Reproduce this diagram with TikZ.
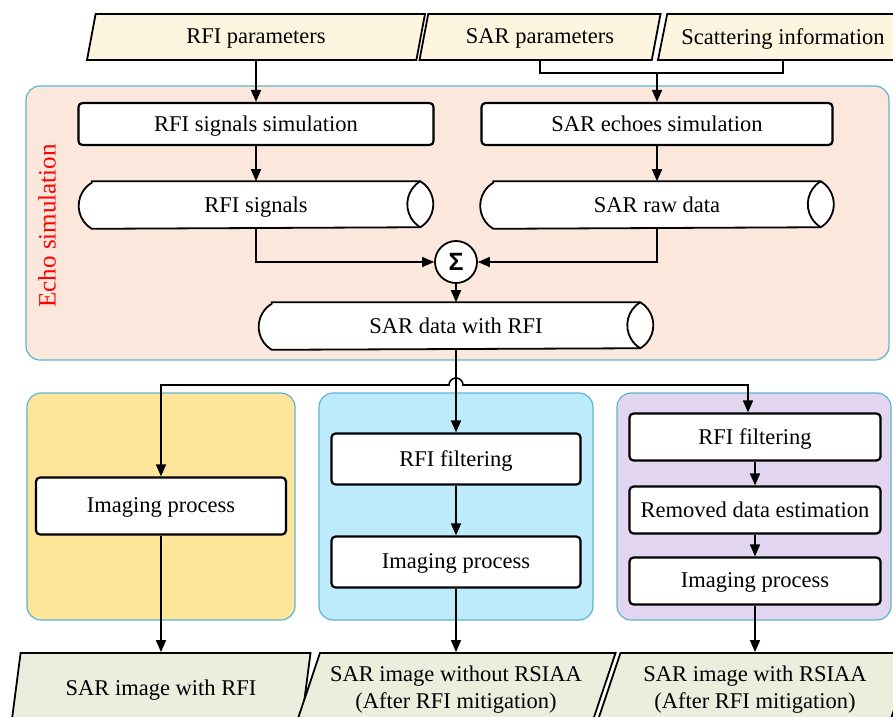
\documentclass[tikz,border=0pt]{standalone}
\usepackage{fontspec}
\setmainfont{Liberation Serif}
\newfontfamily\sigmafont{Liberation Sans}
\usetikzlibrary{arrows.meta, positioning, shapes.geometric, backgrounds}

\definecolor{infill}{RGB}{253,245,223}
\definecolor{outfill}{RGB}{233,238,221}
\definecolor{echofill}{RGB}{251,231,219}
\definecolor{framecol}{RGB}{92,182,206}
\definecolor{panelA}{RGB}{254,229,154}
\definecolor{panelB}{RGB}{190,235,251}
\definecolor{panelC}{RGB}{225,213,240}

\tikzset{
  io/.style={draw, line width=1.8pt, trapezium, trapezium left angle=62, trapezium right angle=118,
    trapezium stretches body, inner sep=0pt, minimum height=46pt, align=center, text depth=1.5pt},
  procbox/.style={draw, line width=2.2pt, fill=white, rounded corners=4pt, minimum height=42pt, text depth=1.5pt},
  databox/.style={inner sep=0pt, minimum height=46pt, text depth=1.5pt},
  dataline/.style={draw, fill=white, line width=1.8pt},
  panel/.style={draw=framecol, line width=1.2pt, rounded corners=14pt},
}

% outline of a stored-data node: bulged left end, lens at the right end
\newcommand{\datashape}[1]{%
  \draw[dataline] (#1.north west) -- (#1.north east)
    arc[start angle=59, end angle=-59, radius=26.85pt] -- (#1.south west)
    arc[start angle=239, end angle=121, radius=26.85pt] -- cycle;
  \draw[line width=1.8pt] (#1.north east) arc[start angle=121, end angle=239, radius=26.85pt];
}

\begin{document}
\begin{tikzpicture}[x=1pt, y=-1pt, >={Triangle[length=12pt, width=10pt]}, line width=1.6pt,
    font=\fontsize{22.5}{27}\selectfont]
    \clip (0,0) rectangle (893,716);

    % containers
    \begin{scope}[on background layer]
      \draw[panel, fill=echofill] (26,86) rectangle (889,360);
      \draw[panel, fill=panelA] (27,393) rectangle (295,620);
      \draw[panel, fill=panelB] (319,393) rectangle (593,620);
      \draw[panel, fill=panelC] (617,393) rectangle (891,620);
    \end{scope}
    \node (echo) [rotate=90, text=red, font=\fontsize{25}{30}\selectfont] at (47,226) {Echo simulation};

    % inputs
    \node (rfipar) [io, fill=infill, minimum width=338pt] at (256,37) {RFI parameters};
    \node (sarpar) [io, fill=infill, minimum width=241pt] at (540,37) {SAR parameters};
    \node (scat) [io, fill=infill, minimum width=250pt] at (783,37) {Scattering information};

    % echo simulation
    \node (rfisim) [procbox, minimum width=355pt] at (256,124) {RFI signals simulation};
    \node (sarsim) [procbox, minimum width=351pt] at (657,124) {SAR echoes simulation};
    \node (rfisig) [databox, minimum width=327pt] at (256,205) {RFI signals};
    \node (sarraw) [databox, minimum width=326pt] at (657,205) {SAR raw data};
    \node (sum) [draw, circle, line width=1.8pt, fill=white, minimum size=42pt, inner sep=0pt,
      font=\sigmafont\bfseries\fontsize{25}{28}\selectfont] at (456,262) {Σ};
    \node (rfidata) [databox, minimum width=367pt] at (456,326) {SAR data with RFI};
    \begin{scope}[on background layer]
      \datashape{rfisig}
      \datashape{sarraw}
      \datashape{rfidata}
    \end{scope}

    % three branches
    \node (imgA) [procbox, minimum width=250pt, minimum height=57pt] at (161,506) {Imaging process};
    \node (filtB) [procbox, minimum width=249pt, minimum height=51pt] at (456,459) {RFI filtering};
    \node (imgB) [procbox, minimum width=249pt, minimum height=51pt] at (456,562) {Imaging process};
    \node (filtC) [procbox, minimum width=251pt, minimum height=47pt] at (755,437) {RFI filtering};
    \node (estC) [procbox, minimum width=251pt, minimum height=47pt] at (755,510) {Removed data estimation};
    \node (imgC) [procbox, minimum width=251pt, minimum height=47pt] at (755,581) {Imaging process};

    % outputs
    \node (outA) [io, fill=outfill, minimum width=299pt, minimum height=70pt] at (161,688) {SAR image with RFI};
    \node (outB) [io, fill=outfill, minimum width=319pt, minimum height=70pt] at (456,688) {SAR image without RSIAA\\(After RFI mitigation)};
    \node (outC) [io, fill=outfill, minimum width=316pt, minimum height=70pt] at (755,688) {SAR image with RSIAA\\(After RFI mitigation)};

    \coordinate (join) at (657,73);
    \coordinate (split) at (456,385);

    % connectors
    \draw[->] (rfipar.south) -- (rfisim.north);
    \draw (sarpar.south) |- (join) -| (scat.south);
    \draw[->] (join) -- (sarsim.north);
    \draw[->] (rfisim) -- (rfisig);
    \draw[->] (sarsim) -- (sarraw);
    \draw[->] (rfisig.south) |- (sum);
    \draw[->] (sarraw.south) |- (sum);
    \draw[->] (sum) -- (rfidata);
    \draw[->] (rfidata) -- (filtB);
    \draw[<->] (imgA.north) |- ([xshift=-7pt]split) arc[start angle=180, end angle=0, radius=7pt] -| ([xshift=-7pt]filtC.north);
    \draw[->] (filtB) -- (imgB);
    \draw[->] (filtC) -- (estC);
    \draw[->] (estC) -- (imgC);
    \draw[->] (imgA) -- (outA);
    \draw[->] (imgB) -- (outB);
    \draw[->] (imgC) -- (outC);
\end{tikzpicture}
\end{document}
